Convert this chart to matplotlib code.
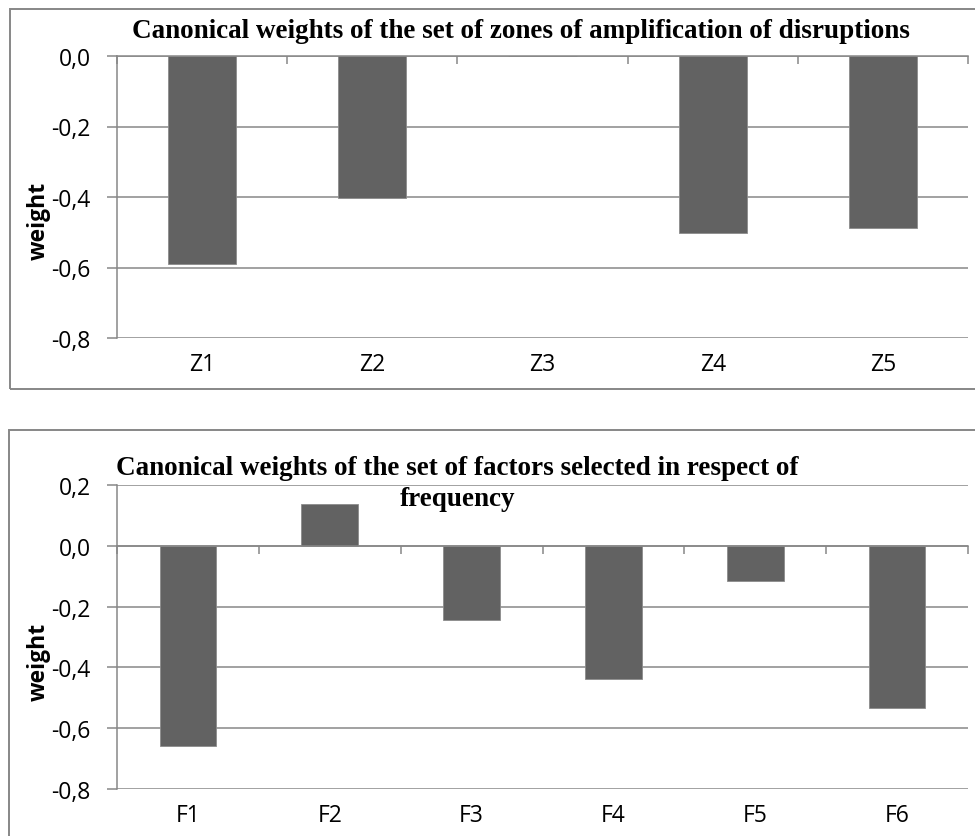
import matplotlib
matplotlib.use("Agg")
import matplotlib.pyplot as plt
from matplotlib.patches import Rectangle

zones = ["Z1", "Z2", "Z3", "Z4", "Z5"]
zone_weights = [-0.59, -0.404, 0.0, -0.501, -0.487]

factors = ["F1", "F2", "F3", "F4", "F5", "F6"]
factor_weights = [-0.657, 0.138, -0.244, -0.437, -0.115, -0.533]

title_top = "Canonical weights of the set of zones of amplification of disruptions"
title_bottom = "Canonical weights of the set of factors selected in respect of\nfrequency"

BAR = "#626262"
LINE = "#878787"
W, H = 975, 837

plt.rcParams["font.family"] = ["Open Sans", "DejaVu Sans"]

fig = plt.figure(figsize=(9.75, 8.37), dpi=100)


def fx(px):
    return px / W


def fy(py):
    return 1 - py / H


def panel(rect, cats, vals, yticks, title, title_xy):
    ax = fig.add_axes(rect)
    x = list(range(1, len(cats) + 1))
    ax.bar(x, vals, width=0.4, color=BAR, edgecolor="#8c8c8c", linewidth=0.6, zorder=3)
    ax.set_xlim(0.5, len(cats) + 0.5)
    ax.set_ylim(yticks[0], yticks[-1])

    ax.set_yticks(yticks)
    ax.set_yticklabels([f"{v:.1f}".replace(".", ",") for v in yticks])
    ax.yaxis.grid(True, color=LINE, linewidth=1.1, zorder=0)
    ax.tick_params(axis="y", length=7, width=1.1, color=LINE, pad=12, labelsize=16.5)

    # category boundaries as ticks on the zero line, names below the plot
    ax.set_xticks([i + 0.5 for i in range(len(cats) + 1)])
    ax.set_xticks(x, minor=True)
    ax.set_xticklabels(cats, minor=True)
    ax.tick_params(axis="x", which="major", top=True, bottom=False,
                   labeltop=False, labelbottom=False, direction="in",
                   length=6, width=1.1, color=LINE)
    ax.tick_params(axis="x", which="minor", bottom=True, top=False,
                   length=0, pad=10, labelsize=16.5)

    ax.spines["top"].set_position(("data", 0))
    ax.spines["top"].set_color(LINE)
    ax.spines["top"].set_linewidth(1.1)
    ax.spines["top"].set_zorder(4)
    ax.spines["left"].set_color(LINE)
    ax.spines["left"].set_linewidth(1.1)
    ax.spines["right"].set_visible(False)
    ax.spines["bottom"].set_visible(False)

    ax.set_ylabel("weight", fontweight="bold", fontsize=16.5)
    ax.yaxis.set_label_coords(-0.078, 0.42)

    fig.text(fx(title_xy[0]), fy(title_xy[1]), title, ha="center", va="center",
             fontfamily="Liberation Serif", fontweight="bold", fontsize=19.5,
             linespacing=1.3)
    return ax


panel([fx(117), fy(339), fx(968 - 117), (339 - 57) / H], zones, zone_weights,
      [-0.8, -0.6, -0.4, -0.2, 0.0], title_top, (521, 31))
panel([fx(117), fy(790), fx(968 - 117), (790 - 486) / H], factors, factor_weights,
      [-0.8, -0.6, -0.4, -0.2, 0.0, 0.2], title_bottom, (457, 484))

# chart area frames
fig.add_artist(Rectangle((fx(10), fy(390)), fx(1000 - 10), (390 - 10) / H,
                         transform=fig.transFigure, fill=False, edgecolor=LINE,
                         linewidth=1.4))
fig.add_artist(Rectangle((fx(9), fy(860)), fx(1000 - 9), (860 - 431) / H,
                         transform=fig.transFigure, fill=False, edgecolor=LINE,
                         linewidth=1.4))

fig.savefig("out.png", dpi=100)
